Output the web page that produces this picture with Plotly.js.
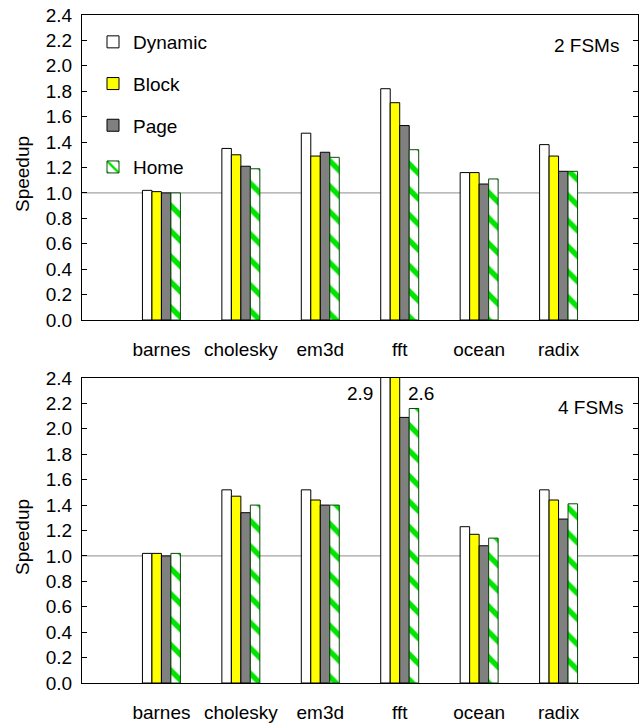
<!DOCTYPE html>
<html>
<head>
<meta charset="utf-8">
<script src="https://cdn.plot.ly/plotly-3.0.1.min.js"></script>
<style>html,body{margin:0;padding:0;background:#fff;}#chart{width:644px;height:725px;}</style>
</head>
<body>
<div id="chart"></div>
<script>
// ---- data ----
const categories = ['barnes', 'cholesky', 'em3d', 'fft', 'ocean', 'radix'];
const seriesNames = ['Dynamic', 'Block', 'Page', 'Home'];
const fsm2Dynamic = [1.02, 1.35, 1.47, 1.82, 1.16, 1.38];
const fsm2Block   = [1.01, 1.30, 1.29, 1.71, 1.16, 1.29];
const fsm2Page    = [1.00, 1.21, 1.32, 1.53, 1.07, 1.17];
const fsm2Home    = [1.00, 1.19, 1.28, 1.34, 1.11, 1.17];
const fsm4Dynamic = [1.02, 1.52, 1.52, 2.9, 1.23, 1.52];
const fsm4Block   = [1.02, 1.47, 1.44, 2.6, 1.17, 1.44];
const fsm4Page    = [1.00, 1.34, 1.40, 2.09, 1.08, 1.29];
const fsm4Home    = [1.02, 1.40, 1.40, 2.16, 1.14, 1.41];
const panelLabels = ['2 FSMs', '4 FSMs'];
const yTicks = [0, 0.2, 0.4, 0.6, 0.8, 1.0, 1.2, 1.4, 1.6, 1.8, 2.0, 2.2, 2.4];

// ---- styling ----
const W = 644, H = 725;
const FONT = 'Liberation Sans, Arial, Helvetica, sans-serif';
const styles = [
  {color: '#ffffff', line: '#000000'},
  {color: '#ffff00', line: '#000000'},
  {color: '#808080', line: '#000000'},
  {color: '#ffffff', line: '#0a4a0a', pattern: {shape: '\\', fgcolor: '#00e600', bgcolor: '#ffffff', size: 18, solidity: 0.3, fillmode: 'replace'}}
];
const px = v => v / W;
const py = v => (H - v) / H;

const sets = [
  [fsm2Dynamic, fsm2Block, fsm2Page, fsm2Home],
  [fsm4Dynamic, fsm4Block, fsm4Page, fsm4Home]
];
const traces = [];
sets.forEach((set, p) => {
  set.forEach((vals, i) => {
    const m = {color: styles[i].color, line: {color: styles[i].line, width: 1}};
    if (styles[i].pattern) m.pattern = styles[i].pattern;
    traces.push({
      type: 'bar', x: categories, y: vals, name: seriesNames[i],
      marker: m, xaxis: p === 0 ? 'x' : 'x2', yaxis: p === 0 ? 'y' : 'y2',
      showlegend: p === 0, legendgroup: seriesNames[i], hoverinfo: 'skip'
    });
  });
});

const xDom = [px(82), px(638)];
function xax(anchor) {
  return {
    domain: xDom, anchor: anchor, type: 'category', range: [-1, 6],
    showline: true, mirror: true, linecolor: '#000', linewidth: 1,
    ticks: '', showgrid: false, zeroline: false, fixedrange: true,
    tickfont: {family: FONT, size: 19, color: '#000'}, ticklabelstandoff: 12
  };
}
function yax(anchor, dom) {
  return {
    domain: dom, anchor: anchor, range: [0, 2.4], tickvals: yTicks,
    tickformat: '.1f', ticks: 'inside', ticklen: 5, tickcolor: '#000',
    showline: true, mirror: 'ticks', linecolor: '#000', linewidth: 1,
    showgrid: false, zeroline: false, fixedrange: true,
    tickfont: {family: FONT, size: 19, color: '#000'}, ticklabelstandoff: 5
  };
}

const layout = {
  width: W, height: H, margin: {l: 0, r: 0, t: 0, b: 0},
  paper_bgcolor: '#fff', plot_bgcolor: '#fff',
  font: {family: FONT, size: 19, color: '#000'},
  barmode: 'group', bargap: 0.522, bargroupgap: 0,
  xaxis: xax('y'), yaxis: yax('x', [py(320), py(15)]),
  xaxis2: xax('y2'), yaxis2: yax('x2', [py(683), py(378)]),
  showlegend: true,
  legend: {
    x: px(93), y: py(23), xanchor: 'left', yanchor: 'top',
    bgcolor: 'rgba(0,0,0,0)', borderwidth: 0, tracegroupgap: 14,
    font: {family: FONT, size: 19, color: '#000'}, traceorder: 'grouped'
  },
  shapes: [
    {type: 'line', xref: 'x domain', yref: 'y', x0: 0, x1: 1, y0: 1, y1: 1, layer: 'below', line: {color: '#8c8c8c', width: 1}},
    {type: 'line', xref: 'x2 domain', yref: 'y2', x0: 0, x1: 1, y0: 1, y1: 1, layer: 'below', line: {color: '#8c8c8c', width: 1}}
  ],
  annotations: [
    {xref: 'paper', yref: 'paper', x: px(22), y: py(174), xanchor: 'center', yanchor: 'middle', text: 'Speedup', textangle: -90, showarrow: false, font: {family: FONT, size: 19}},
    {xref: 'paper', yref: 'paper', x: px(22), y: py(537), xanchor: 'center', yanchor: 'middle', text: 'Speedup', textangle: -90, showarrow: false, font: {family: FONT, size: 19}},
    {xref: 'paper', yref: 'paper', x: px(621), y: py(46), xanchor: 'right', yanchor: 'middle', text: panelLabels[0], showarrow: false, font: {family: FONT, size: 19}},
    {xref: 'paper', yref: 'paper', x: px(625), y: py(408), xanchor: 'right', yanchor: 'middle', text: panelLabels[1], showarrow: false, font: {family: FONT, size: 19}},
    {xref: 'x2', yref: 'y2', x: categories[3], y: 2.4, xanchor: 'right', yanchor: 'top', xshift: -25, yshift: -3, text: fsm4Dynamic[3].toFixed(1), showarrow: false, font: {family: FONT, size: 19}},
    {xref: 'x2', yref: 'y2', x: categories[3], y: 2.4, xanchor: 'left', yanchor: 'top', xshift: 6, yshift: -3, text: fsm4Block[3].toFixed(1), showarrow: false, font: {family: FONT, size: 19}}
  ]
};

Plotly.newPlot('chart', traces, layout, {displayModeBar: false, staticPlot: true});
</script>
</body>
</html>
